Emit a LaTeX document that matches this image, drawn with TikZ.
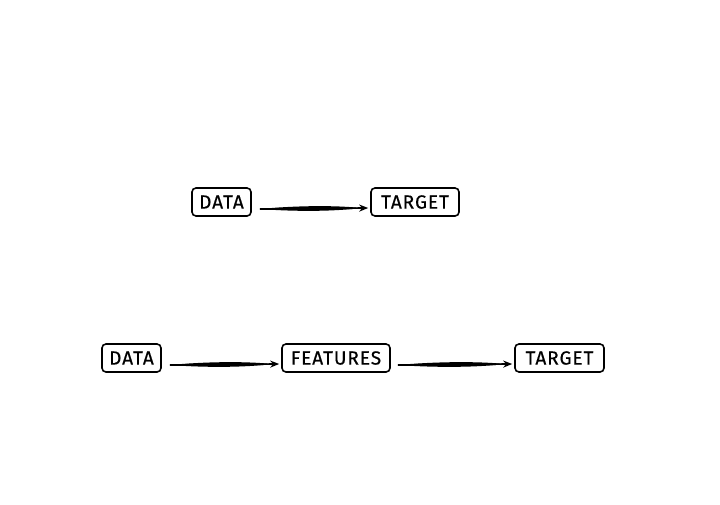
\documentclass[tikz,border=0pt]{standalone}
\usepackage{fontspec}
\setmainfont{Fira Sans}[LetterSpace=5, FakeBold=0.5]
\usetikzlibrary{arrows.meta,calc}
\begin{document}
\begin{tikzpicture}[x=1pt,y=-1pt,
  box/.style={draw, line width=1.6pt, rounded corners=4pt, minimum height=28pt, inner sep=0pt, font=\fontsize{19}{19}\selectfont},
  conn/.style={line width=1.7pt, -{Stealth[length=9pt,width=7pt]}}]
\useasboundingbox (0,0) rectangle (720,504);
\node[box, minimum width=59pt] (d1) at (221.5,202) {DATA};
\node[box, minimum width=88pt] (t1) at (415,202) {TARGET};
\node[box, minimum width=59pt] (d2) at (131.5,358) {DATA};
\node[box, minimum width=108pt] (f2) at (336,358) {FEATURES};
\node[box, minimum width=89pt] (t2) at (559.5,358) {TARGET};
% connectors
\coordinate (s1) at ($(d1.east)+(8,7)$);
\coordinate (e1) at ($(t1.west)+(-2,6)$);
\coordinate (s2) at ($(d2.east)+(8,7)$);
\coordinate (e2) at ($(f2.west)+(-2,6)$);
\coordinate (s3) at ($(f2.east)+(7,7)$);
\coordinate (e3) at ($(t2.west)+(-2,6)$);
\foreach \s/\e in {s1/e1,s2/e2,s3/e3}{
  \fill (\s) .. controls ($(\s)!0.35!(\e)+(0,-3.2)$) and ($(\s)!0.7!(\e)+(0,-3)$) .. ($(\e)+(-7,0)$)
        .. controls ($(\s)!0.7!(\e)+(0,3)$) and ($(\s)!0.35!(\e)+(0,3.2)$) .. (\s) -- cycle;
  \draw[conn] (\s) -- (\e);
}
\end{tikzpicture}
\end{document}
